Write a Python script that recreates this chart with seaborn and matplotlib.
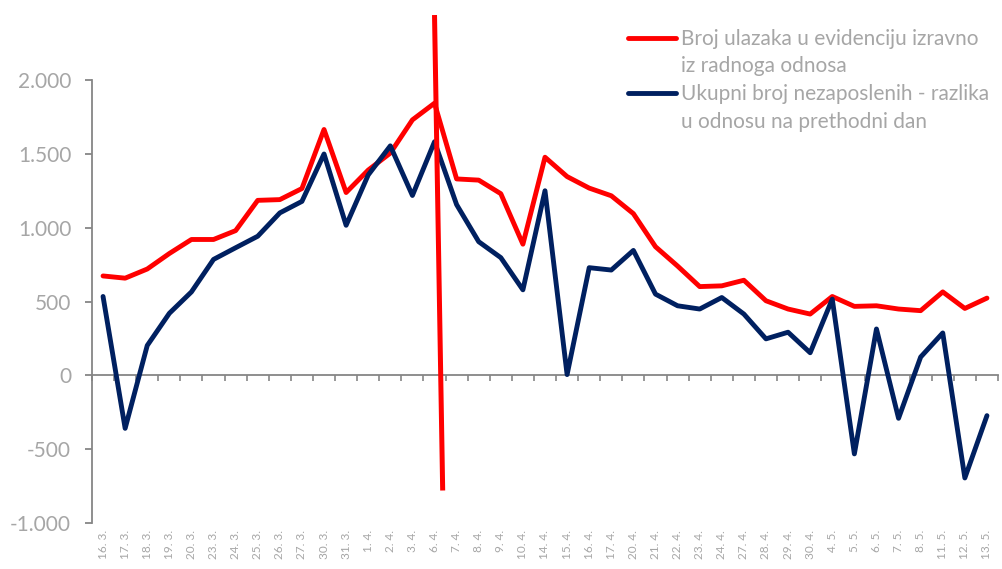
import numpy as np
import pandas as pd
import seaborn as sns
import matplotlib.pyplot as plt
from matplotlib.lines import Line2D
from matplotlib.ticker import FuncFormatter

dates = ["16. 3.", "17. 3.", "18. 3.", "19. 3.", "20. 3.", "23. 3.", "24. 3.", "25. 3.", "26. 3.", "27. 3.",
         "30. 3.", "31. 3.", "1. 4.", "2. 4.", "3. 4.", "6. 4.", "7. 4.", "8. 4.", "9. 4.", "10. 4.",
         "14. 4.", "15. 4.", "16. 4.", "17. 4.", "20. 4.", "21. 4.", "22. 4.", "23. 4.", "24. 4.", "27. 4.",
         "28. 4.", "29. 4.", "30. 4.", "4. 5.", "5. 5.", "6. 5.", "7. 5.", "8. 5.", "11. 5.", "12. 5.", "13. 5."]

ulasci = [673, 658, 720, 825, 920, 920, 980, 1185, 1190, 1265,
          1665, 1238, 1390, 1505, 1730, 1843, 1330, 1322, 1230, 888,
          1477, 1346, 1268, 1216, 1095, 871, 740, 601, 606, 644,
          505, 449, 415, 534, 467, 471, 449, 438, 565, 453, 523]

razlika = [534, -359, 202, 420, 565, 785, 864, 942, 1100, 1178,
           1499, 1016, 1357, 1554, 1218, 1582, 1156, 905, 797, 579,
           1250, 5, 729, 713, 846, 550, 471, 449, 527, 415,
           247, 292, 153, 516, -532, 314, -291, 124, 287, -695, -273]

label_red = "Broj ulazaka u evidenciju izravno"
label_red2 = "iz radnoga odnosa"
label_blue = "Ukupni broj nezaposlenih - razlika"
label_blue2 = "u odnosu na prethodni dan"

# hand-drawn marker line in the original (around 6. 4.)
marker_x = [15.0, 15.37]
marker_y = [2440, -780]

RED = "#FF0000"
NAVY = "#002060"
GRAY_TXT = "#A6A6A6"
GRAY_AX = "#868686"

sns.set_theme(style="white")
plt.rcParams["font.family"] = ["Lato", "DejaVu Sans"]

df = pd.DataFrame({"x": np.arange(len(dates)), "ulasci": ulasci, "razlika": razlika})

fig = plt.figure(figsize=(10.02, 5.69), dpi=100)
ax = fig.add_axes([92 / 1002, 1 - 523 / 569, 906 / 1002, (523 - 80) / 569])

sns.lineplot(data=df, x="x", y="ulasci", color=RED, linewidth=3.5, ax=ax, zorder=3)
sns.lineplot(data=df, x="x", y="razlika", color=NAVY, linewidth=3.5, ax=ax, zorder=3)
ax.plot(marker_x, marker_y, color=RED, linewidth=3.6, clip_on=False, zorder=5, solid_capstyle="butt")

ax.set_xlim(-0.5, len(dates) - 0.5)
ax.set_ylim(-1000, 2000)
ax.set_xlabel("")
ax.set_ylabel("")

for s in ["top", "right"]:
    ax.spines[s].set_visible(False)
ax.spines["left"].set_color(GRAY_AX)
ax.spines["left"].set_linewidth(1.3)
ax.spines["bottom"].set_position(("data", 0))
ax.spines["bottom"].set_color(GRAY_AX)
ax.spines["bottom"].set_linewidth(1.3)
ax.spines["bottom"].set_zorder(2)

ax.set_yticks(np.arange(-1000, 2001, 500))
ax.yaxis.set_major_formatter(FuncFormatter(lambda v, p: f"{int(v):,}".replace(",", ".")))
ax.tick_params(axis="y", direction="out", length=5, width=1.3, color=GRAY_AX, labelcolor=GRAY_TXT,
               labelsize=15, pad=10, left=True)

ax.set_xticks(np.arange(-0.5, len(dates), 1))
ax.set_xticklabels([])
ax.tick_params(axis="x", direction="out", length=4, width=1.2, color=GRAY_AX, bottom=True)

sec = ax.secondary_xaxis("bottom")
sec.set_xticks(np.arange(len(dates)), labels=dates, rotation=90)
sec.tick_params(length=0, labelsize=8.5, labelcolor=GRAY_TXT, pad=5)
sec.spines["bottom"].set_visible(False)

handles = [Line2D([], [], color=RED, linewidth=3.5),
           Line2D([], [], color="none"),
           Line2D([], [], color=NAVY, linewidth=3.5),
           Line2D([], [], color="none")]
leg = fig.legend(handles, [label_red, label_red2, label_blue, label_blue2],
                 loc="upper left", bbox_to_anchor=(628 / 1002, 1 - 29 / 569),
                 frameon=False, fontsize=15, handlelength=2.3, handletextpad=0.25,
                 labelspacing=0.36, borderpad=0, borderaxespad=0)
for t in leg.get_texts():
    t.set_color(GRAY_TXT)

fig.savefig("out.png", dpi=100)
